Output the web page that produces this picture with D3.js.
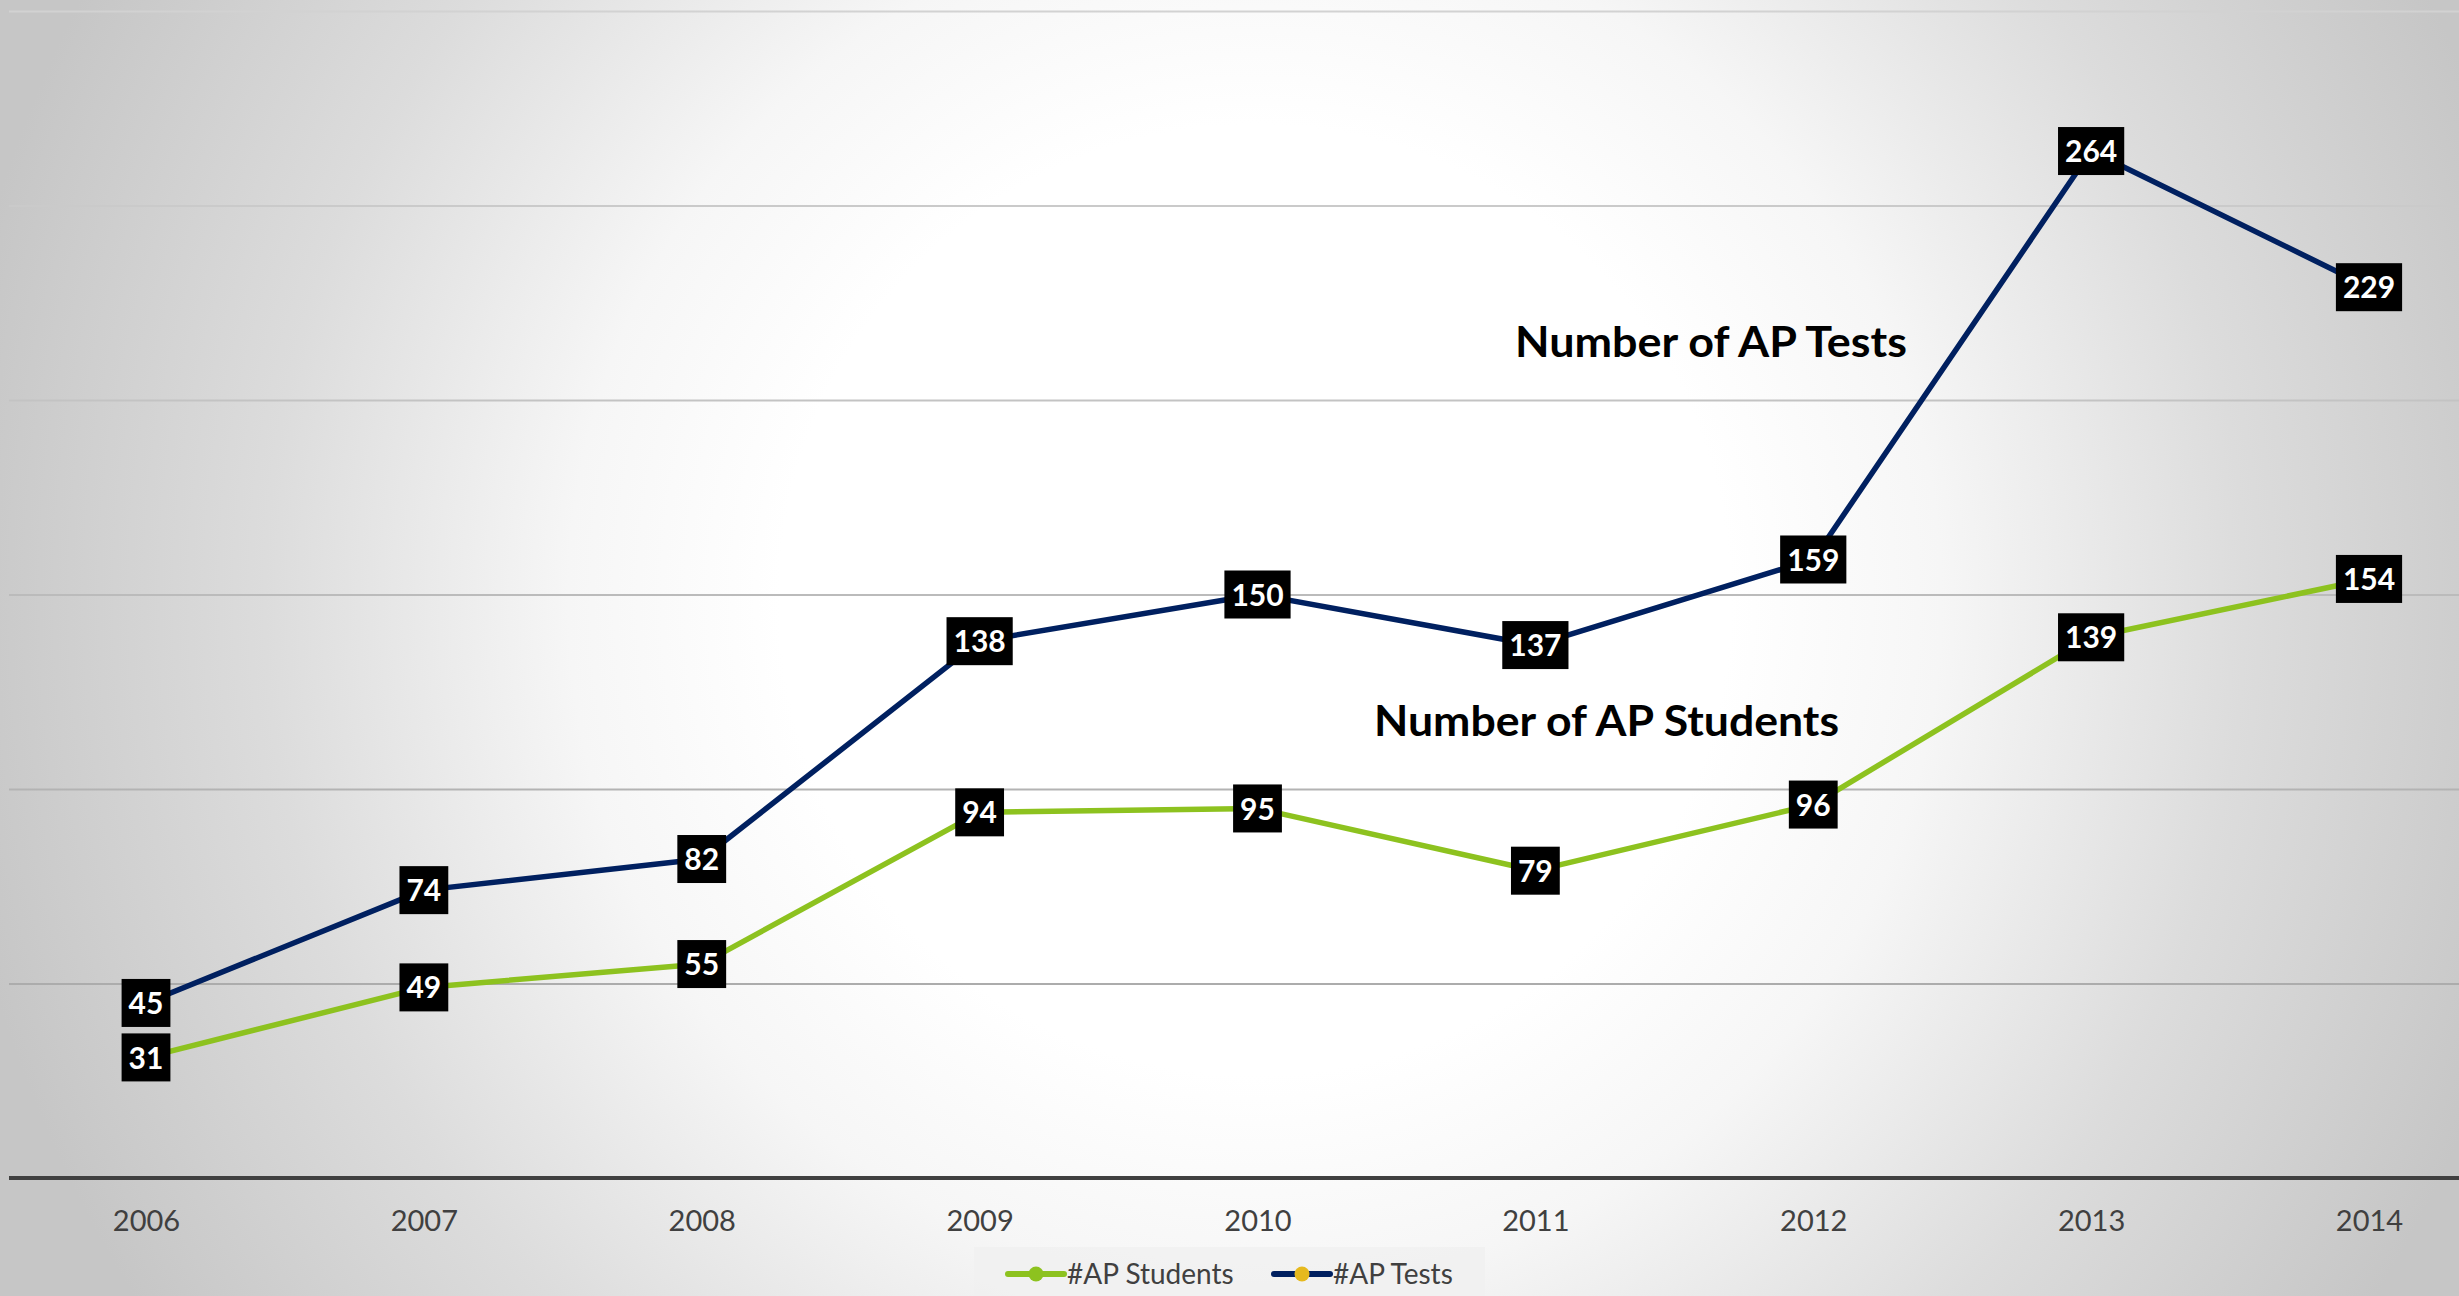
<!DOCTYPE html>
<html>
<head>
<meta charset="utf-8">
<script src="https://cdn.jsdelivr.net/npm/d3@7"></script>
<style>
  html, body { margin: 0; padding: 0; overflow: hidden; }
  text { font-family: Lato, "Open Sans", sans-serif; }
</style>
</head>
<body>
<script>
const years = ['2006', '2007', '2008', '2009', '2010', '2011', '2012', '2013', '2014'];
const apStudents = [31, 49, 55, 94, 95, 79, 96, 139, 154];
const apTests = [45, 74, 82, 138, 150, 137, 159, 264, 229];
const yTicks = [0, 50, 100, 150, 200, 250, 300];

const width = 2459, height = 1296;

const svg = d3.select('body')
    .append('svg')
    .attr('width', width)
    .attr('height', height);

// background glow, round in screen space
const defs = svg.append('defs');
const bg = defs.append('radialGradient')
    .attr('id', 'bg')
    .attr('gradientUnits', 'userSpaceOnUse')
    .attr('cx', 1255).attr('cy', 600).attr('r', 1320);
bg.append('stop').attr('offset', '0').attr('stop-color', '#ffffff');
bg.append('stop').attr('offset', '0.36').attr('stop-color', '#ffffff');
bg.append('stop').attr('offset', '0.52').attr('stop-color', '#f6f6f6');
bg.append('stop').attr('offset', '0.75').attr('stop-color', '#dcdcdc');
bg.append('stop').attr('offset', '1').attr('stop-color', '#c6c6c6');

svg.append('rect')
    .attr('width', width)
    .attr('height', height)
    .attr('fill', 'url(#bg)');

const x = d3.scalePoint()
    .domain(years)
    .range([146, 2369]);

const y = d3.scaleLinear()
    .domain([0, 300])
    .range([1178, 11]);

// gridlines
svg.append('g')
    .attr('transform', 'translate(9,0)')
    .call(d3.axisLeft(y).tickValues(yTicks).tickSize(-(width - 9)).tickFormat(''))
    .call(g => g.select('.domain').remove())
    .call(g => g.selectAll('.tick line')
        .attr('stroke', d => d3.interpolateRgb('#d2d2d2', '#a4a4a4')(1 - d / 300))
        .attr('stroke-width', 2));

// baseline
svg.append('line')
    .attr('x1', 9).attr('x2', width)
    .attr('y1', y(0)).attr('y2', y(0))
    .attr('stroke', '#404040')
    .attr('stroke-width', 4);

// x axis labels
svg.append('g')
    .attr('transform', 'translate(0,' + (y(0) + 29) + ')')
    .call(d3.axisBottom(x).tickSize(0))
    .call(g => g.select('.domain').remove())
    .call(g => g.selectAll('text')
        .attr('font-size', 29)
        .attr('fill', '#404040')
        .attr('font-family', 'Lato, sans-serif'));

const series = [
    { name: '#AP Students', values: apStudents, color: '#8dc21f', marker: '#8dc21f' },
    { name: '#AP Tests', values: apTests, color: '#002060', marker: '#e6b91e' }
];

const line = d3.line()
    .x((d, i) => x(years[i]))
    .y(d => y(d));

svg.selectAll('path.series')
    .data(series)
    .enter()
    .append('path')
    .attr('class', 'series')
    .attr('d', d => line(d.values))
    .attr('fill', 'none')
    .attr('stroke', d => d.color)
    .attr('stroke-width', 5.5)
    .attr('stroke-linejoin', 'round');

// data labels
series.forEach(s => {
    const lab = svg.append('g').selectAll('g')
        .data(s.values)
        .enter()
        .append('g')
        .attr('transform', (d, i) => 'translate(' + x(years[i]) + ',' + y(d) + ')');
    const rects = lab.append('rect').attr('fill', '#000');
    const texts = lab.append('text')
        .text(d => d)
        .attr('text-anchor', 'middle')
        .attr('dy', '0.37em')
        .attr('font-size', 30)
        .attr('font-weight', 'bold')
        .attr('fill', '#fff');
    texts.each(function (d, i) {
        const w = this.getComputedTextLength() + 14;
        d3.select(rects.nodes()[i])
            .attr('x', -w / 2).attr('y', -24)
            .attr('width', w).attr('height', 48);
    });
});

// annotations
const notes = [
    { text: 'Number of AP Tests', x: 1515, y: 342, w: 392 },
    { text: 'Number of AP Students', x: 1374, y: 721, w: 465 }
];
svg.selectAll('text.note')
    .data(notes)
    .enter()
    .append('text')
    .attr('class', 'note')
    .attr('x', d => d.x)
    .attr('y', d => d.y)
    .attr('dy', '0.36em')
    .attr('font-size', 42)
    .attr('font-weight', 'bold')
    .attr('fill', '#000')
    .attr('textLength', d => d.w)
    .attr('lengthAdjust', 'spacingAndGlyphs')
    .text(d => d.text);

// legend
svg.append('rect')
    .attr('x', 974).attr('y', 1247)
    .attr('width', 511).attr('height', 49)
    .attr('fill', '#f0f0f0')
    .attr('opacity', 0.8);

const legendX = [1008, 1274];
const leg = svg.selectAll('g.leg')
    .data(series)
    .enter()
    .append('g')
    .attr('class', 'leg')
    .attr('transform', (d, i) => 'translate(' + legendX[i] + ',1274)');
leg.append('line')
    .attr('x1', 0).attr('x2', 56)
    .attr('stroke', d => d.color)
    .attr('stroke-width', 6)
    .attr('stroke-linecap', 'round');
leg.append('circle')
    .attr('cx', 28).attr('r', 7.5)
    .attr('fill', d => d.marker);
leg.append('text')
    .attr('x', 59)
    .attr('dy', '0.36em')
    .attr('font-size', 28)
    .attr('fill', '#404040')
    .text(d => d.name);
</script>
</body>
</html>
